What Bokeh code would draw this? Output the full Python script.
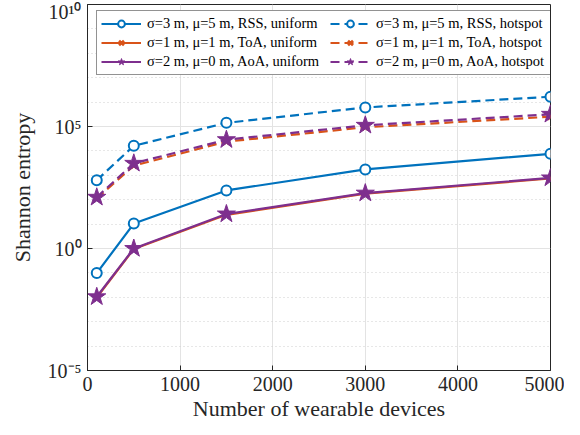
from bokeh.plotting import figure
from bokeh.models import (FixedTicker, Legend, LegendItem, Range1d)
from bokeh.embed import file_html
from bokeh.resources import INLINE

# ---- data ----
devices = [100, 500, 1500, 3000, 5000]
rss_uniform = [0.098, 10.5, 240, 1740, 7600]
toa_uniform = [0.0098, 0.95, 24, 178, 740]
aoa_uniform = [0.0105, 1.0, 26, 186, 780]
rss_hotspot = [630, 16200, 141000, 603000, 1660000]
toa_hotspot = [112, 2500, 24000, 93000, 251000]
aoa_hotspot = [126, 3100, 28800, 112000, 316000]

labels = [
    "σ=3 m, μ=5 m, RSS, uniform",
    "σ=1 m, μ=1 m, ToA, uniform",
    "σ=2 m, μ=0 m, AoA, uniform",
    "σ=3 m, μ=5 m, RSS, hotspot",
    "σ=1 m, μ=1 m, ToA, hotspot",
    "σ=2 m, μ=0 m, AoA, hotspot",
]
x_ticks = [0, 1000, 2000, 3000, 4000, 5000]
y_ticks = [1e-5, 1e0, 1e5, 1e10]
y_tick_labels = {1e-5: "10⁻⁵", 1e0: "10⁰", 1e5: "10⁵", 1e10: "10¹⁰"}
y_minor = [10.0 ** k for k in range(-5, 11)]

BLUE = "#0072BD"
ORANGE = "#D95319"
PURPLE = "#7E2F8E"
DARK = "#262626"
FONT = "Liberation Serif"

p = figure(width=564, height=423, output_backend="svg", toolbar_location=None,
           y_axis_type="log", x_range=Range1d(0, 5000), y_range=Range1d(1e-5, 1e10),
           min_border_left=87, min_border_right=14, min_border_top=4, min_border_bottom=50)
p.background_fill_color = "white"
p.border_fill_color = "white"
p.outline_line_color = DARK
p.outline_line_width = 1

# grids
p.xgrid.ticker = FixedTicker(ticks=x_ticks)
p.xgrid.grid_line_color = "#e3e3e3"
p.ygrid.ticker = FixedTicker(ticks=y_ticks, minor_ticks=y_minor)
p.ygrid.grid_line_color = "#e3e3e3"
p.ygrid.minor_grid_line_color = "#cfcfcf"
p.ygrid.minor_grid_line_dash = "1 3"

def style_axis(ax):
    ax.axis_line_color = DARK
    ax.major_tick_line_color = DARK
    ax.major_tick_in = 5
    ax.major_tick_out = 0
    ax.minor_tick_line_color = None
    ax.major_label_text_font = FONT
    ax.major_label_text_color = DARK
    ax.major_label_text_font_size = "20px"
    ax.axis_label_text_font = FONT
    ax.axis_label_text_color = DARK
    ax.axis_label_text_font_size = "22px"
    ax.axis_label_text_font_style = "normal"

xa = p.xaxis[0]
xa.ticker = FixedTicker(ticks=x_ticks)
xa.axis_label = "Number of wearable devices"
style_axis(xa)
xa.major_label_standoff = 6
xa.axis_label_standoff = 2

ya = p.yaxis[0]
ya.ticker = FixedTicker(ticks=y_ticks)
ya.major_label_overrides = y_tick_labels
ya.axis_label = "Shannon entropy"
style_axis(ya)
ya.major_label_standoff = 6
ya.axis_label_standoff = 10

series = [
    (rss_uniform, BLUE, "circle", "solid"),
    (toa_uniform, ORANGE, "x", "solid"),
    (aoa_uniform, PURPLE, "star", "solid"),
    (rss_hotspot, BLUE, "circle", "9 5"),
    (toa_hotspot, ORANGE, "x", "9 5"),
    (aoa_hotspot, PURPLE, "star", "9 5"),
]

items = []
for (vals, col, mk, dash), lab in zip(series, labels):
    lr = p.line(devices, vals, line_color=col, line_width=2.2, line_dash=dash)
    if mk == "circle":
        sr = p.scatter(devices, vals, marker="circle", size=10, line_color=col,
                       fill_color="white", line_width=2)
    elif mk == "x":
        sr = p.scatter(devices, vals, marker="x", size=8, line_color=col, line_width=2.5)
    else:
        sr = p.scatter(devices, vals, marker="star", size=19, line_color=col,
                       fill_color=col, line_width=1)
    items.append(LegendItem(label=lab, renderers=[lr, sr]))

legend = Legend(items=items, ncols=2, location=(9, 295))
legend.label_text_font = FONT
legend.label_text_font_size = "14.5px"
legend.label_text_color = "black"
legend.glyph_width = 40
legend.glyph_height = 17
legend.label_height = 17
legend.label_width = 181
legend.label_standoff = 6
legend.spacing = 2
legend.padding = 4
legend.margin = 0
legend.border_line_color = DARK
legend.border_line_width = 1
legend.background_fill_color = "white"
legend.background_fill_alpha = 1
p.add_layout(legend, "center")

open("out.html", "w").write(file_html(p, INLINE))
